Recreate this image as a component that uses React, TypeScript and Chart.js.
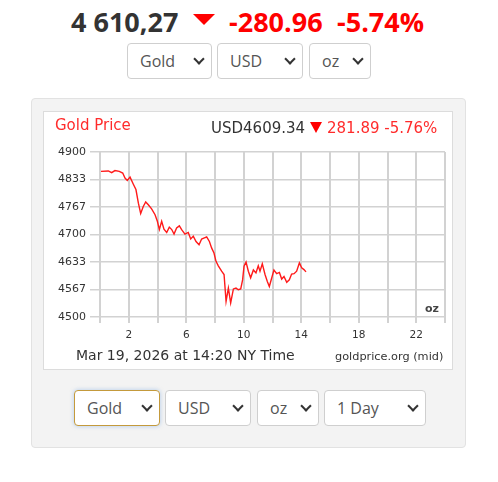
import React, { useEffect, useRef } from "react";
import { Chart, registerables } from "chart.js";

Chart.register(...registerables);

// ---- data ----
const HOURS = [0.07, 0.58, 0.81, 1.04, 1.34, 1.58, 1.74, 1.9, 2.09, 2.32, 2.5, 2.67, 2.83, 3.01, 3.18, 3.36, 3.59, 3.83, 3.99, 4.13, 4.29, 4.45, 4.64, 4.82, 4.99, 5.15, 5.33, 5.52, 5.68, 5.91, 6.14, 6.31, 6.49, 6.68, 6.89, 7.07, 7.26, 7.42, 7.61, 7.77, 7.93, 8.07, 8.23, 8.46, 8.63, 8.77, 8.93, 9.09, 9.28, 9.46, 9.62, 9.79, 9.92, 10.02, 10.16, 10.32, 10.48, 10.67, 10.85, 11.01, 11.13, 11.29, 11.48, 11.64, 11.78, 11.94, 12.1, 12.29, 12.48, 12.64, 12.8, 12.99, 13.17, 13.33, 13.5, 13.68, 13.87, 14.03, 14.19, 14.33];
const PRICES = [4853, 4854, 4850, 4855, 4853, 4849, 4837, 4831, 4839, 4822, 4809, 4776, 4751, 4768, 4779, 4772, 4762, 4748, 4732, 4712, 4732, 4713, 4705, 4718, 4712, 4701, 4716, 4721, 4712, 4701, 4705, 4689, 4696, 4683, 4675, 4689, 4692, 4694, 4683, 4667, 4655, 4635, 4624, 4611, 4603, 4538, 4570, 4534, 4568, 4570, 4566, 4568, 4590, 4623, 4633, 4611, 4595, 4614, 4607, 4624, 4611, 4629, 4603, 4586, 4574, 4594, 4614, 4605, 4608, 4592, 4598, 4584, 4590, 4604, 4605, 4611, 4631, 4619, 4615, 4609.34];

const Y_TICKS = [4500, 4566.67, 4633.33, 4700, 4766.67, 4833.33, 4900];
const Y_LABELS = ["4500", "4567", "4633", "4700", "4767", "4833", "4900"];
const X_TICKS = [0, 2, 4, 6, 8, 10, 12, 14, 16, 18, 20, 22, 24];
const X_LABELS = ["", "2", "", "6", "", "10", "", "14", "", "18", "", "22", ""];

const TOP_SELECTS = ["Gold", "USD", "oz"];
const BOTTOM_SELECTS = ["Gold", "USD", "oz", "1 Day"];

const HEADER_PRICE = "4 610,27";
const HEADER_CHANGE = "-280.96";
const HEADER_PCT = "-5.74%";
const CHART_TITLE = "Gold Price";
const CHART_PRICE = "USD4609.34";
const CHART_CHANGE = "281.89 -5.76%";
const FOOT_DATE = "Mar 19, 2026 at 14:20 NY Time";
const FOOT_SRC = "goldprice.org (mid)";
const UNIT = "oz";

const GRID = "#d2d2d2";
const RED = "#ff0000";
const CRED = "#ff2b2b";

function Select({ left, top, width, label, focused }: { left: number; top: number; width: number; label: string; focused?: boolean }) {
  return (
    <div
      style={{
        position: "absolute",
        left,
        top,
        width,
        height: 36,
        boxSizing: "border-box",
        border: focused ? "1px solid #c49a3c" : "1px solid #cfcfcf",
        borderRadius: 4,
        background: "#fff",
        boxShadow: focused ? "0 0 4px rgba(120,170,230,0.55)" : "none",
        fontFamily: "'Open Sans', sans-serif",
        fontSize: 16,
        color: "#555",
      }}
    >
      <span style={{ position: "absolute", left: 12, top: 0, lineHeight: "34px", whiteSpace: "nowrap" }}>{label}</span>
      <span
        style={{
          position: "absolute",
          right: 8,
          top: 11,
          width: 6,
          height: 6,
          borderRight: "2px solid #333",
          borderBottom: "2px solid #333",
          transform: "rotate(45deg)",
        }}
      />
    </div>
  );
}

function Tri({ left, top, w, h, color }: { left: number; top: number; w: number; h: number; color: string }) {
  return (
    <div
      style={{
        position: "absolute",
        left,
        top,
        width: 0,
        height: 0,
        borderLeft: `${w / 2}px solid transparent`,
        borderRight: `${w / 2}px solid transparent`,
        borderTop: `${h}px solid ${color}`,
      }}
    />
  );
}

export default function App() {
  const ref = useRef<HTMLCanvasElement | null>(null);

  useEffect(() => {
    if (!ref.current) return;
    const chart = new Chart(ref.current, {
      type: "line",
      data: {
        datasets: [
          {
            data: HOURS.map((h, i) => ({ x: h, y: PRICES[i] })),
            borderColor: "#ff1a1a",
            borderWidth: 1.4,
            pointRadius: 0,
            tension: 0,
            fill: false,
          },
        ],
      },
      options: {
        animation: false,
        responsive: false,
        maintainAspectRatio: false,
        layout: { padding: { top: 40, right: 7, left: 0, bottom: 0 } },
        plugins: { legend: { display: false }, tooltip: { enabled: false }, title: { display: false } },
        scales: {
          x: {
            type: "linear",
            min: 0,
            max: 24,
            afterFit: (s: any) => {
              s.height = 52;
            },
            afterBuildTicks: (s: any) => {
              s.ticks = X_TICKS.map((v) => ({ value: v }));
            },
            ticks: {
              autoSkip: false,
              maxRotation: 0,
              padding: 6,
              color: "#333",
              font: { family: "'DejaVu Sans', Verdana, sans-serif", size: 10.5 },
              callback: (_v: any, i: number) => X_LABELS[i],
            },
            grid: { color: GRID, lineWidth: 2, tickLength: 6, drawTicks: true },
            border: { display: false },
          },
          y: {
            min: 4500,
            max: 4900,
            afterFit: (s: any) => {
              s.width = 56;
            },
            afterBuildTicks: (s: any) => {
              s.ticks = Y_TICKS.map((v) => ({ value: v }));
            },
            ticks: {
              autoSkip: false,
              padding: 4,
              color: "#333",
              font: { family: "'DejaVu Sans', Verdana, sans-serif", size: 11 },
              callback: (_v: any, i: number) => Y_LABELS[i],
            },
            grid: { color: GRID, lineWidth: 1.5, tickLength: 10, drawTicks: true },
            border: { display: false },
          },
        },
      },
    });
    return () => chart.destroy();
  }, []);

  const chartFont = "'DejaVu Sans', Verdana, sans-serif";
  const headFont = "'Open Sans', sans-serif";

  return (
    <div style={{ position: "absolute", left: 0, top: 0, width: 498, height: 482, background: "#fff", overflow: "hidden" }}>
      {/* header */}
      <span style={{ position: "absolute", left: 71, top: 3, lineHeight: "37px", fontFamily: headFont, fontWeight: 700, fontSize: 27, color: "#333", whiteSpace: "nowrap" }}>{HEADER_PRICE}</span>
      <Tri left={193} top={14} w={23} h={11} color={RED} />
      <span style={{ position: "absolute", left: 229, top: 3, lineHeight: "37px", fontFamily: headFont, fontWeight: 700, fontSize: 27, color: RED, whiteSpace: "nowrap" }}>{HEADER_CHANGE}</span>
      <span style={{ position: "absolute", left: 337, top: 3, lineHeight: "37px", fontFamily: headFont, fontWeight: 700, fontSize: 27, color: RED, whiteSpace: "nowrap" }}>{HEADER_PCT}</span>

      <Select left={127} top={43} width={85} label={TOP_SELECTS[0]} />
      <Select left={217} top={43} width={86} label={TOP_SELECTS[1]} />
      <Select left={309} top={43} width={62} label={TOP_SELECTS[2]} />

      {/* panel */}
      <div style={{ position: "absolute", left: 31, top: 98, width: 435, height: 350, boxSizing: "border-box", background: "#f3f3f3", border: "1px solid #e2e2e2", borderRadius: 4 }} />

      <div style={{ position: "absolute", left: 43, top: 111, width: 410, height: 259, boxSizing: "border-box", background: "#fff", border: "1px solid #dcdcdc" }}>
        <canvas ref={ref} width={408} height={257} style={{ position: "absolute", left: 0, top: 0, width: 408, height: 257 }} />
      </div>

      <span style={{ position: "absolute", left: 55, top: 116, lineHeight: "18px", fontFamily: chartFont, fontSize: 15, color: CRED, whiteSpace: "nowrap" }}>{CHART_TITLE}</span>
      <span style={{ position: "absolute", left: 211, top: 119, lineHeight: "18px", fontFamily: chartFont, fontSize: 15, color: "#333", whiteSpace: "nowrap" }}>{CHART_PRICE}</span>
      <Tri left={310} top={122} w={12} h={11} color={RED} />
      <span style={{ position: "absolute", left: 327, top: 119, lineHeight: "18px", fontFamily: chartFont, fontSize: 15, color: CRED, whiteSpace: "nowrap" }}>{CHART_CHANGE}</span>

      <span style={{ position: "absolute", left: 425, top: 302, lineHeight: "13px", fontFamily: chartFont, fontSize: 11, fontWeight: 700, color: "#444", whiteSpace: "nowrap" }}>{UNIT}</span>

      <span style={{ position: "absolute", left: 76, top: 347, lineHeight: "17px", fontFamily: chartFont, fontSize: 14, color: "#333", whiteSpace: "nowrap" }}>{FOOT_DATE}</span>
      <span style={{ position: "absolute", left: 335, top: 350, lineHeight: "14px", fontFamily: chartFont, fontSize: 11.3, color: "#333", whiteSpace: "nowrap" }}>{FOOT_SRC}</span>

      <Select left={74} top={390} width={86} label={BOTTOM_SELECTS[0]} focused />
      <Select left={165} top={390} width={86} label={BOTTOM_SELECTS[1]} />
      <Select left={257} top={390} width={62} label={BOTTOM_SELECTS[2]} />
      <Select left={324} top={390} width={102} label={BOTTOM_SELECTS[3]} />
    </div>
  );
}
